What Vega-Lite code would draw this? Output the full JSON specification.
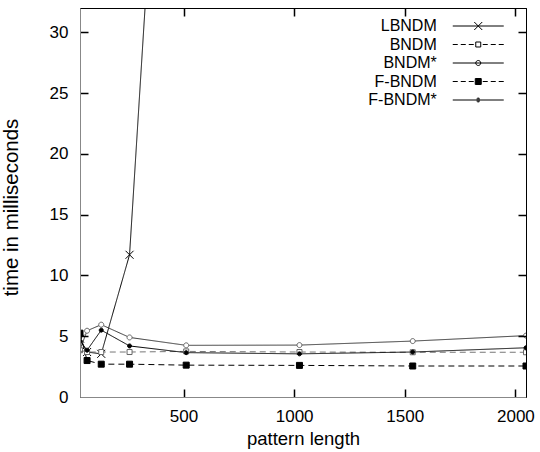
{
  "$schema": "https://vega.github.io/schema/vega-lite/v6.json",
  "width": 446,
  "height": 389,
  "autosize": {"type": "none"},
  "padding": {"left": 80, "top": 8, "right": 14, "bottom": 55},
  "background": "white",
  "data": {
    "values": [
      {"s": "LBNDM", "n": 32, "t": 4.8},
      {"s": "LBNDM", "n": 64, "t": 3.7},
      {"s": "LBNDM", "n": 128, "t": 3.55},
      {"s": "LBNDM", "n": 256, "t": 11.7},
      {"s": "LBNDM", "n": 512, "t": 86},
      {"s": "BNDM", "n": 32, "t": 3.85},
      {"s": "BNDM", "n": 64, "t": 3.7},
      {"s": "BNDM", "n": 128, "t": 3.7},
      {"s": "BNDM", "n": 256, "t": 3.7},
      {"s": "BNDM", "n": 512, "t": 3.75},
      {"s": "BNDM", "n": 1024, "t": 3.7},
      {"s": "BNDM", "n": 1536, "t": 3.68},
      {"s": "BNDM", "n": 2048, "t": 3.68},
      {"s": "BNDM*", "n": 32, "t": 3.9},
      {"s": "BNDM*", "n": 64, "t": 5.45},
      {"s": "BNDM*", "n": 128, "t": 5.95},
      {"s": "BNDM*", "n": 256, "t": 4.9},
      {"s": "BNDM*", "n": 512, "t": 4.25},
      {"s": "BNDM*", "n": 1024, "t": 4.27},
      {"s": "BNDM*", "n": 1536, "t": 4.6},
      {"s": "BNDM*", "n": 2048, "t": 5.05},
      {"s": "F-BNDM", "n": 32, "t": 5.25},
      {"s": "F-BNDM", "n": 64, "t": 3.0},
      {"s": "F-BNDM", "n": 128, "t": 2.7},
      {"s": "F-BNDM", "n": 256, "t": 2.7},
      {"s": "F-BNDM", "n": 512, "t": 2.62},
      {"s": "F-BNDM", "n": 1024, "t": 2.6},
      {"s": "F-BNDM", "n": 1536, "t": 2.55},
      {"s": "F-BNDM", "n": 2048, "t": 2.55},
      {"s": "F-BNDM*", "n": 32, "t": 4.6},
      {"s": "F-BNDM*", "n": 64, "t": 3.85},
      {"s": "F-BNDM*", "n": 128, "t": 5.5},
      {"s": "F-BNDM*", "n": 256, "t": 4.2},
      {"s": "F-BNDM*", "n": 512, "t": 3.65},
      {"s": "F-BNDM*", "n": 1024, "t": 3.55},
      {"s": "F-BNDM*", "n": 1536, "t": 3.7},
      {"s": "F-BNDM*", "n": 2048, "t": 4.05}
    ]
  },
  "layer": [
    {
      "mark": {"type": "line", "clip": true, "strokeWidth": 1},
      "encoding": {
        "x": {
          "field": "n", "type": "quantitative",
          "scale": {"domain": [32, 2048], "nice": false, "zero": false},
          "axis": {"orient": "bottom", "zindex": 1, "values": [500, 1000, 1500, 2000], "format": "d", "ticks": false, "labelPadding": 11, "labelFontSize": 17, "title": "pattern length", "titleFontSize": 18.5, "titlePadding": 5}
        },
        "y": {
          "field": "t", "type": "quantitative",
          "scale": {"domain": [0, 32], "nice": false, "zero": false},
          "axis": {"orient": "left", "zindex": 1, "values": [0, 5, 10, 15, 20, 25, 30], "ticks": false, "labelPadding": 12, "labelFontSize": 17, "title": "time in milliseconds", "titleFontSize": 20.5, "titlePadding": 28, "titleY": 199}
        },
        "color": {
          "field": "s", "type": "nominal",
          "scale": {"domain": ["LBNDM", "BNDM", "BNDM*", "F-BNDM", "F-BNDM*"], "range": ["black", "#777777", "#333333", "black", "black"]},
          "legend": null
        },
        "strokeDash": {
          "field": "s", "type": "nominal",
          "scale": {"domain": ["LBNDM", "BNDM", "BNDM*", "F-BNDM", "F-BNDM*"], "range": [[1, 0], [6, 4], [1, 0], [6, 4], [1, 0]]},
          "legend": null
        },
        "order": {"field": "n", "type": "quantitative"}
      }
    },
    {
      "mark": {"type": "point", "clip": true, "strokeWidth": 1, "opacity": 1, "size": 64},
      "encoding": {
        "x": {"field": "n", "type": "quantitative", "axis": null},
        "y": {"field": "t", "type": "quantitative", "axis": null},
        "shape": {
          "field": "s", "type": "nominal",
          "scale": {
            "domain": ["LBNDM", "BNDM", "BNDM*", "F-BNDM", "F-BNDM*"],
            "range": [
              "M-1,-1L1,1M-1,1L1,-1",
              "M-0.625,-0.625H0.625V0.625H-0.625Z",
              "M-0.625,0A0.625,0.625,0,1,0,0.625,0A0.625,0.625,0,1,0,-0.625,0Z",
              "M-0.75,-0.75H0.75V0.75H-0.75Z",
              "M-0.5,0A0.5,0.5,0,1,0,0.5,0A0.5,0.5,0,1,0,-0.5,0Z"
            ]
          },
          "legend": null
        },
        "stroke": {
          "field": "s", "type": "nominal",
          "scale": {"domain": ["LBNDM", "BNDM", "BNDM*", "F-BNDM", "F-BNDM*"], "range": ["black", "#666666", "#666666", "black", "black"]},
          "legend": null
        },
        "fill": {
          "field": "s", "type": "nominal",
          "scale": {"domain": ["LBNDM", "BNDM", "BNDM*", "F-BNDM", "F-BNDM*"], "range": ["transparent", "white", "white", "black", "black"]},
          "legend": null
        }
      }
    },
    {
      "mark": {"type": "point", "opacity": 0, "clip": true, "color": "black", "filled": false},
      "encoding": {
        "x": {"field": "n", "type": "quantitative", "axis": {"orient": "top", "zindex": 1, "values": [500, 1000, 1500, 2000], "ticks": false, "labels": false, "domain": true, "domainColor": "black", "domainWidth": 1, "title": null, "grid": true, "gridColor": "black", "gridOpacity": 1, "gridWidth": 1.5, "gridDash": [8, 373, 8, 2000]}},
        "y": {"field": "t", "type": "quantitative", "axis": {"orient": "right", "zindex": 1, "values": [5, 10, 15, 20, 25, 30], "ticks": false, "labels": false, "domain": true, "domainColor": "black", "domainWidth": 1, "title": null, "grid": true, "gridColor": "black", "gridOpacity": 1, "gridWidth": 1.5, "gridDash": [8, 430, 8, 2000]}},
        "shape": {
          "field": "s", "type": "nominal",
          "scale": {
            "domain": ["LBNDM", "BNDM", "BNDM*", "F-BNDM", "F-BNDM*"],
            "range": [
              "M-2.757,0H2.757M-0.432,-0.432L0.432,0.432M-0.432,0.432L0.432,-0.432",
              "M-2.757,0H-2.216M-1.892,0H-1.351M-1.027,0H-0.486M0.486,0H1.027M1.351,0H1.892M2.216,0H2.757M-0.27,-0.27H0.27V0.27H-0.27Z",
              "M-2.757,0H2.757M-0.27,0A0.27,0.27,0,1,0,0.27,0A0.27,0.27,0,1,0,-0.27,0Z",
              "M-2.757,0H-2.216M-1.892,0H-1.351M-1.027,0H-0.486M0.486,0H1.027M1.351,0H1.892M2.216,0H2.757M-0.324,-0.324H0.324M-0.324,-0.216H0.324M-0.324,-0.108H0.324M-0.324,0H0.324M-0.324,0.108H0.324M-0.324,0.216H0.324M-0.324,0.324H0.324M-0.324,-0.324V0.324M0.324,-0.324V0.324",
              "M-2.757,0H2.757M-0.187,-0.108H0.187M-0.187,0.108H0.187M-0.1,-0.2H0.1M-0.1,0.2H0.1"
            ]
          },
          "legend": {
            "title": null,
            "orient": "none",
            "legendX": 290,
            "legendY": 8,
            "padding": 0,
            "offset": 0,
            "symbolSize": 342,
            "symbolStrokeWidth": 1,
            "symbolStrokeColor": "black",
            "symbolFillColor": "transparent",
            "symbolOpacity": 1,
            "symbolOffset": 98.25,
            "labelOffset": -51.5,
            "labelAlign": "right",
            "labelFontSize": 16,
            "labelFont": "Liberation Sans",
            "labelColor": "black",
            "rowPadding": 0.5
          }
        }
      }
    }
  ],
  "resolve": {
    "scale": {"shape": "independent"},
    "axis": {"x": "independent", "y": "independent"}
  },
  "config": {
    "font": "Liberation Sans",
    "view": {"stroke": "black", "strokeWidth": 1},
    "axis": {
      "grid": false,
      "labelFontSize": 17,
      "titleFontSize": 18,
      "titleFontWeight": "normal",
      "labelColor": "black",
      "titleColor": "black",
      "labelFont": "Liberation Sans",
      "titleFont": "Liberation Sans"
    }
  }
}
